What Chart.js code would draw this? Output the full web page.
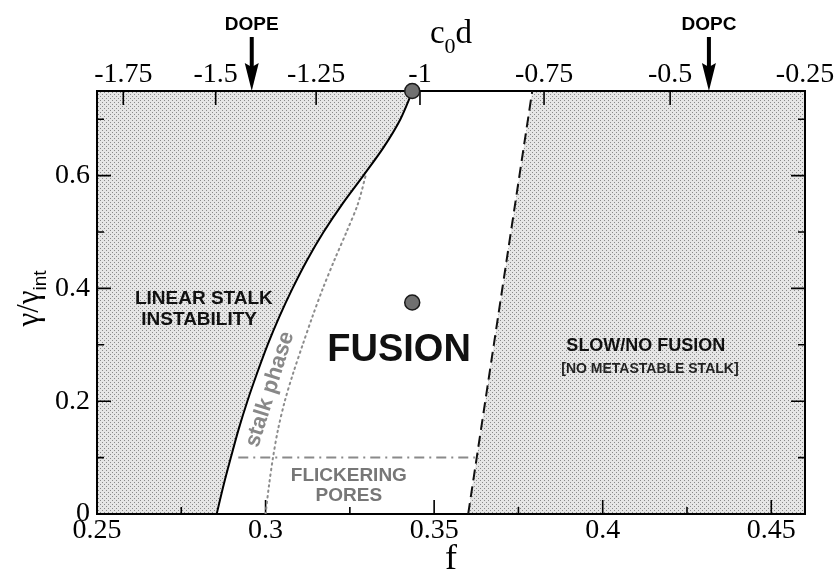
<!DOCTYPE html>
<html>
<head>
<meta charset="utf-8">
<script src="https://cdn.jsdelivr.net/npm/chart.js@4.4.0/dist/chart.umd.min.js"></script>
<style>
  html, body { margin: 0; padding: 0; background: #fff; }
  #wrap { position: relative; width: 837px; height: 571px; }
</style>
</head>
<body>
<div id="wrap"><canvas id="phaseChart"></canvas></div>
<script>
// axis ranges and ticks
const xMin = 0.25, xMax = 0.46, yMin = 0, yMax = 0.75;
const xTicks = [0.25, 0.3, 0.35, 0.4, 0.45];
const xTickLabels = ['0.25', '0.3', '0.35', '0.4', '0.45'];
const xMinorTicks = [0.275, 0.325, 0.375, 0.425];
const yTicks = [0, 0.2, 0.4, 0.6];
const yTickLabels = ['0', '0.2', '0.4', '0.6'];
const yMinorTicks = [0.1, 0.3, 0.5, 0.7];

// top axis: c0d values sit at these f positions
const topTickF = [0.2578, 0.2852, 0.3150, 0.3458, 0.3826, 0.4200, 0.4600];
const topTickLabels = ['-1.75', '-1.5', '-1.25', '-1', '-0.75', '-0.5', '-0.25'];
const lipidNames = ['DOPE', 'DOPC'];
const lipidF = [0.2959, 0.4315];

// boundary of linear stalk instability (solid)
const stalkY = [0, 0.05, 0.1, 0.15, 0.2, 0.25, 0.3, 0.35, 0.4, 0.45, 0.5, 0.55, 0.6, 0.65, 0.7, 0.75];
const stalkF = [0.2855, 0.2875, 0.2897, 0.2920, 0.2946, 0.2975, 0.3006, 0.3041, 0.3080, 0.3123, 0.3172, 0.3228, 0.3290, 0.3350, 0.3400, 0.3436];
// stalk phase boundary (dotted)
const phaseY = [0, 0.05, 0.1, 0.15, 0.2, 0.25, 0.3, 0.35, 0.4, 0.45, 0.5, 0.55, 0.605];
const phaseF = [0.3000, 0.3010, 0.3022, 0.3037, 0.3057, 0.3082, 0.3110, 0.3139, 0.3170, 0.3204, 0.3240, 0.3274, 0.3299];
// no metastable stalk boundary (dashed)
const slowF = [0.3601, 0.3791];
const slowY = [0, 0.75];
// flickering pores limit (dash-dot)
const poresF = [0.2919, 0.3621];
const poresY = [0.1, 0.1];
// marked points
const markF = [0.3435, 0.3435];
const markY = [0.75, 0.375];

const pts = (xs, ys) => xs.map((v, i) => ({ x: v, y: ys[i] }));

const leftRegion = [{ x: xMin, y: yMin }, ...pts(stalkF, stalkY), { x: xMin, y: yMax }];
const rightRegion = [...pts(slowF, slowY), { x: xMax, y: yMax }, { x: xMax, y: yMin }];

// stipple pattern for the excluded regions
const tile = document.createElement('canvas');
tile.width = 4; tile.height = 4;
const tctx = tile.getContext('2d');
tctx.fillStyle = '#e6e6e6';
tctx.fillRect(0, 0, 4, 4);
tctx.fillStyle = '#8a8a8a';
tctx.fillRect(0, 0, 1, 1);
tctx.fillRect(2, 2, 1, 1);
const stipple = tctx.createPattern(tile, 'repeat');

const notes = [
  { text: 'LINEAR STALK', f: 0.2817, y: 0.381, size: 19, color: '#111' },
  { text: 'INSTABILITY', f: 0.2803, y: 0.344, size: 19, color: '#111' },
  { text: 'FUSION', f: 0.3396, y: 0.289, size: 38, color: '#111' },
  { text: 'SLOW/NO FUSION', f: 0.4128, y: 0.297, size: 18, color: '#111' },
  { text: '[NO METASTABLE STALK]', f: 0.4140, y: 0.2566, size: 14, color: '#222' },
  { text: 'FLICKERING', f: 0.3247, y: 0.0678, size: 19, color: '#777' },
  { text: 'PORES', f: 0.3247, y: 0.0324, size: 19, color: '#777' },
  { text: 'stalk phase', f: 0.3013, y: 0.221, size: 22, color: '#888', rot: -72.7 },
];

const SANS = '"Liberation Sans", Arial, sans-serif';
const SERIF = '"Liberation Serif", "Times New Roman", serif';

const decor = {
  id: 'decor',
  beforeDatasetsDraw(chart) {
    const { ctx, chartArea: a, scales: { x, y } } = chart;
    ctx.save();
    ctx.strokeStyle = '#000';
    ctx.lineWidth = 1.6;
    ctx.beginPath();
    const vTick = (v, len, fromTop) => {
      const p = x.getPixelForValue(v);
      if (fromTop) { ctx.moveTo(p, a.top); ctx.lineTo(p, a.top + len); }
      else { ctx.moveTo(p, a.bottom); ctx.lineTo(p, a.bottom - len); }
    };
    const hTick = (v, len) => {
      const p = y.getPixelForValue(v);
      ctx.moveTo(a.left, p); ctx.lineTo(a.left + len, p);
      ctx.moveTo(a.right, p); ctx.lineTo(a.right - len, p);
    };
    xTicks.forEach((v) => vTick(v, 14, false));
    xMinorTicks.forEach((v) => vTick(v, 7, false));
    topTickF.forEach((v) => vTick(v, 14, true));
    yTicks.forEach((v) => hTick(v, 14));
    yMinorTicks.forEach((v) => hTick(v, 7));
    ctx.stroke();
    ctx.lineWidth = 2;
    ctx.strokeRect(a.left, a.top, a.right - a.left, a.bottom - a.top);
    ctx.restore();
  },
  afterDatasetsDraw(chart) {
    const { ctx, chartArea: a, scales: { x, y } } = chart;
    ctx.save();
    ctx.textAlign = 'center';
    ctx.textBaseline = 'middle';
    notes.forEach((n) => {
      ctx.save();
      ctx.translate(x.getPixelForValue(n.f), y.getPixelForValue(n.y));
      if (n.rot) ctx.rotate(n.rot * Math.PI / 180);
      ctx.font = `bold ${n.size}px ${SANS}`;
      ctx.fillStyle = n.color;
      ctx.fillText(n.text, 0, 0);
      ctx.restore();
    });

    // lipid arrows above the top axis
    ctx.fillStyle = '#000';
    lipidF.forEach((f, i) => {
      const px = x.getPixelForValue(f);
      ctx.fillRect(px - 2, 37, 4, 30);
      ctx.beginPath();
      ctx.moveTo(px - 7, 63);
      ctx.lineTo(px, 67);
      ctx.lineTo(px + 7, 63);
      ctx.lineTo(px, a.top);
      ctx.closePath();
      ctx.fill();
      ctx.font = `bold 19px ${SANS}`;
      ctx.fillText(lipidNames[i], px, 25);
    });

    // axis titles
    const cx = (a.left + a.right) / 2;
    ctx.textBaseline = 'alphabetic';
    ctx.textAlign = 'left';
    ctx.font = `33px ${SERIF}`;
    const wc = ctx.measureText('c').width;
    const wd = ctx.measureText('d').width;
    ctx.font = `22px ${SERIF}`;
    const w0 = ctx.measureText('0').width;
    const sx = cx - (wc + w0 + wd) / 2;
    ctx.font = `33px ${SERIF}`;
    ctx.fillText('c', sx, 43);
    ctx.font = `22px ${SERIF}`;
    ctx.fillText('0', sx + wc, 53);
    ctx.font = `33px ${SERIF}`;
    ctx.fillText('d', sx + wc + w0, 43);

    ctx.textAlign = 'center';
    ctx.font = `36px ${SERIF}`;
    ctx.fillText('f', cx, 569);

    // y title: gamma / gamma_int, rotated
    ctx.save();
    ctx.translate(38, (a.top + a.bottom) / 2 - 4);
    ctx.rotate(-Math.PI / 2);
    ctx.textAlign = 'left';
    ctx.font = `31px ${SERIF}`;
    const wg = ctx.measureText('\u03b3/\u03b3').width;
    ctx.font = `19px ${SANS}`;
    const wi = ctx.measureText('int').width;
    const gx = -(wg + wi) / 2;
    ctx.font = `31px ${SERIF}`;
    ctx.fillText('\u03b3/\u03b3', gx, 0);
    ctx.font = `19px ${SANS}`;
    ctx.fillText('int', gx + wg, 8);
    ctx.restore();

    ctx.restore();
  },
};

const tickFont = { family: SERIF, size: 28 };

new Chart(document.getElementById('phaseChart'), {
  type: 'scatter',
  data: {
    datasets: [
      {
        label: 'instability region',
        data: leftRegion,
        showLine: true,
        fill: 'shape',
        backgroundColor: stipple,
        borderWidth: 0,
        pointRadius: 0,
        tension: 0,
        order: 10,
      },
      {
        label: 'slow region',
        data: rightRegion,
        showLine: true,
        fill: 'shape',
        backgroundColor: stipple,
        borderWidth: 0,
        pointRadius: 0,
        tension: 0,
        order: 10,
      },
      {
        label: 'stalk phase',
        data: pts(phaseF, phaseY),
        showLine: true,
        borderColor: '#8c8c8c',
        borderWidth: 2,
        borderDash: [1.5, 4],
        borderCapStyle: 'round',
        pointRadius: 0,
        tension: 0.3,
        order: 3,
      },
      {
        label: 'pores',
        data: pts(poresF, poresY),
        showLine: true,
        borderColor: '#8a8a8a',
        borderWidth: 2,
        borderDash: [10, 5, 2, 5],
        pointRadius: 0,
        order: 3,
      },
      {
        label: 'no metastable stalk',
        data: pts(slowF, slowY),
        showLine: true,
        borderColor: '#111',
        borderWidth: 2,
        borderDash: [11, 6],
        pointRadius: 0,
        order: 2,
      },
      {
        label: 'linear instability',
        data: pts(stalkF, stalkY),
        showLine: true,
        borderColor: '#000',
        borderWidth: 2,
        pointRadius: 0,
        tension: 0.3,
        order: 2,
      },
      {
        label: 'marks',
        data: pts(markF, markY),
        showLine: false,
        pointRadius: 7.5,
        pointBackgroundColor: '#707070',
        pointBorderColor: '#1a1a1a',
        pointBorderWidth: 1.5,
        clip: false,
        order: 1,
      },
    ],
  },
  options: {
    responsive: true,
    maintainAspectRatio: false,
    animation: false,
    events: [],
    layout: { padding: { right: 32 } },
    plugins: {
      legend: { display: false },
      tooltip: { enabled: false },
      filler: { drawTime: 'beforeDraw' },
    },
    scales: {
      x: {
        type: 'linear',
        position: 'bottom',
        min: xMin,
        max: xMax,
        afterBuildTicks: (s) => { s.ticks = xTicks.map((v) => ({ value: v })); },
        afterFit: (s) => { s.height = 57; s.paddingLeft = 0; s.paddingRight = 0; },
        ticks: {
          autoSkip: false,
          maxRotation: 0,
          padding: 0,
          color: '#000',
          font: tickFont,
          callback: (v, i) => xTickLabels[i],
        },
        grid: { display: false, drawTicks: false },
        border: { display: false },
      },
      x2: {
        type: 'linear',
        position: 'top',
        min: xMin,
        max: xMax,
        afterBuildTicks: (s) => { s.ticks = topTickF.map((v) => ({ value: v })); },
        afterFit: (s) => { s.height = 91; s.paddingLeft = 0; s.paddingRight = 0; },
        ticks: {
          autoSkip: false,
          maxRotation: 0,
          padding: 0,
          color: '#000',
          font: tickFont,
          callback: (v, i) => topTickLabels[i],
        },
        grid: { display: false, drawTicks: false },
        border: { display: false },
      },
      y: {
        type: 'linear',
        position: 'left',
        min: yMin,
        max: yMax,
        afterBuildTicks: (s) => { s.ticks = yTicks.map((v) => ({ value: v })); },
        afterFit: (s) => { s.width = 97; s.paddingTop = 0; s.paddingBottom = 0; },
        ticks: {
          autoSkip: false,
          padding: 7,
          color: '#000',
          font: tickFont,
          callback: (v, i) => yTickLabels[i],
        },
        grid: { display: false, drawTicks: false },
        border: { display: false },
      },
    },
  },
  plugins: [decor],
});
</script>
</body>
</html>
